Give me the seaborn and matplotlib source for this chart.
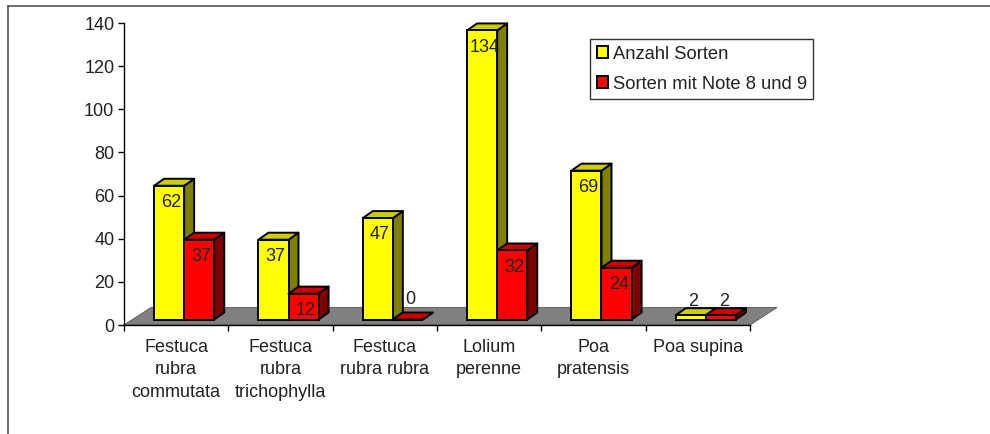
import pandas as pd
import seaborn as sns
from matplotlib import pyplot as plt
from matplotlib.lines import Line2D
from matplotlib.patches import Polygon, Rectangle
from matplotlib.transforms import ScaledTranslation

categories = ['Festuca\nrubra\ncommutata', 'Festuca\nrubra\ntrichophylla', 'Festuca\nrubra rubra',
              'Lolium\nperenne', 'Poa\npratensis', 'Poa supina']
series_names = ['Anzahl Sorten', 'Sorten mit Note 8 und 9']
anzahl = [62, 37, 47, 134, 69, 2]
note_8_9 = [37, 12, 0, 32, 24, 2]
y_ticks = [0, 20, 40, 60, 80, 100, 120, 140]

front_colors = ['#FFFF00', '#FF0000']
side_colors = ['#808000', '#800000']
top_colors = ['#CCCC00', '#CC0000']
text_color = '#222222'

W, H = 990, 434
DPI = 100
LEFT, RIGHT, BASE, TOP = 124, 750, 325, 23

sns.set_theme(style='white')
plt.rcParams['font.family'] = ['Liberation Sans', 'DejaVu Sans']
plt.rcParams['text.color'] = text_color
plt.rcParams['xtick.color'] = 'black'
plt.rcParams['ytick.color'] = 'black'
plt.rcParams['xtick.labelcolor'] = text_color
plt.rcParams['ytick.labelcolor'] = text_color

df = pd.DataFrame({
    'Art': categories * 2,
    'Reihe': [series_names[0]] * 6 + [series_names[1]] * 6,
    'Wert': anzahl + note_8_9,
})

fig = plt.figure(figsize=(W / DPI, H / DPI), dpi=DPI)
ax = fig.add_axes([LEFT / W, 1 - BASE / H, (RIGHT - LEFT) / W, (BASE - TOP) / H])

sns.barplot(data=df, x='Art', y='Wert', hue='Reihe', order=categories, hue_order=series_names,
            palette=front_colors, saturation=1, width=0.577, gap=0, edgecolor='black',
            linewidth=1.4, ax=ax)

ax.set_xlim(-0.5, 5.5)
ax.set_ylim(0, 140)
ax.set_xlabel('')
ax.set_ylabel('')

# pixel sizes turned into data units
px_x = 6 / (RIGHT - LEFT)
px_y = 140 / (BASE - TOP)

# the bars stand on the floor, a bit inside the axis corner
shifted = ax.transData + ScaledTranslation(8 / DPI, 5.5 / DPI, fig.dpi_scale_trans)
dx, dy = 10 * px_x, 7 * px_y

floor = Polygon([(-0.5, 0), (5.5, 0), (5.5 + 27 * px_x, 17.5 * px_y), (-0.5 + 27 * px_x, 17.5 * px_y)],
                facecolor='#808080', edgecolor='#555555', linewidth=0.6, clip_on=False, zorder=0.5)
ax.add_patch(floor)

for i, container in enumerate(ax.containers):
    for bar in container:
        x0, w, h = bar.get_x(), bar.get_width(), bar.get_height()
        bar.set_transform(shifted)
        bar.set_clip_on(False)
        bar.set_zorder(2 + i)
        side = Polygon([(x0 + w, 0), (x0 + w + dx, dy), (x0 + w + dx, h + dy), (x0 + w, h)],
                       facecolor=side_colors[i], edgecolor='black', linewidth=1.4, joinstyle='round',
                       transform=shifted, clip_on=False, zorder=1.5 + i)
        top = Polygon([(x0, h), (x0 + dx, h + dy), (x0 + w + dx, h + dy), (x0 + w, h)],
                      facecolor=top_colors[i], edgecolor='black', linewidth=1.4, joinstyle='round',
                      transform=shifted, clip_on=False, zorder=1.5 + i)
        ax.add_patch(side)
        ax.add_patch(top)
        if h < 5:
            lift = 4 if h > 0 else 8
            ax.annotate(f'{h:.0f}', (x0 + w / 2, h), xycoords=shifted, xytext=(2, lift), textcoords='offset points',
                        ha='center', va='bottom', fontsize=13, zorder=6, annotation_clip=False)
        else:
            ax.annotate(f'{h:.0f}', (x0 + w / 2, h), xycoords=shifted, xytext=(1.5, -6), textcoords='offset points',
                        ha='center', va='top', fontsize=13, zorder=6, annotation_clip=False)

sns.despine(ax=ax)
ax.spines['left'].set_color('black')
ax.spines['bottom'].set_color('black')
ax.spines['left'].set_linewidth(1)
ax.spines['bottom'].set_linewidth(1)
ax.spines['left'].set_zorder(5)

ax.set_yticks(y_ticks)
ax.tick_params(axis='y', left=True, length=4, width=1, pad=3, labelsize=13)
ax.set_xticks([i - 0.5 for i in range(7)])
ax.set_xticklabels([])
ax.set_xticks(range(6), labels=categories, minor=True)
ax.tick_params(axis='x', which='major', bottom=True, length=4, width=1)
ax.tick_params(axis='x', which='minor', bottom=False, length=0, pad=10, labelsize=13)
for label in ax.get_xticklabels(minor=True):
    label.set_linespacing(1.42)
    label.set_ha('center')

handles = [Rectangle((0, 0), 1, 1, facecolor=c, edgecolor='black', linewidth=1.4) for c in front_colors]
ax.legend(handles, series_names, loc='upper left', bbox_to_anchor=(590 / W, 1 - 39 / H),
          bbox_transform=fig.transFigure, borderaxespad=0, fontsize=13.2, handlelength=0.62, handleheight=0.62,
          handletextpad=0.25, labelspacing=0.72, borderpad=0.36, fancybox=False, framealpha=1,
          edgecolor='#333333', frameon=True).get_frame().set_linewidth(1)

fig.add_artist(Line2D([7.5 / W, 7.5 / W], [0, 1 - 5.5 / H], color='#555555', linewidth=1.2))
fig.add_artist(Line2D([7.5 / W, 1], [1 - 5.5 / H, 1 - 5.5 / H], color='#555555', linewidth=1.2))

fig.savefig('out.png', dpi=DPI)
